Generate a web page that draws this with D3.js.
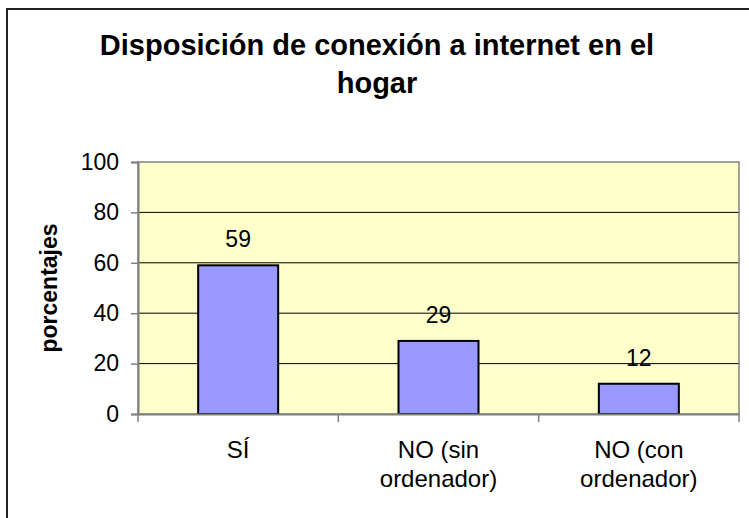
<!DOCTYPE html>
<html>
<head>
<meta charset="utf-8">
<script src="https://cdn.jsdelivr.net/npm/d3@7"></script>
<style>
  html, body { margin: 0; padding: 0; background: #fff; }
  svg { display: block; font-family: "Liberation Sans", Arial, sans-serif; }
</style>
</head>
<body>
<svg id="chart" width="749" height="518"></svg>
<script>
const titleLines = ["Disposición de conexión a internet en el", "hogar"];
const categories = [["SÍ"], ["NO (sin", "ordenador)"], ["NO (con", "ordenador)"]];
const categoryKeys = ["SÍ", "NO (sin ordenador)", "NO (con ordenador)"];
const values = [59, 29, 12];
const yTicks = [0, 20, 40, 60, 80, 100];
const yLabel = "porcentajes";

const svg = d3.select("#chart");
const plot = { left: 138, right: 739, top: 162, bottom: 414 };

// outer frame
svg.append("rect")
  .attr("x", 7).attr("y", 9).attr("width", 800).attr("height", 600)
  .attr("fill", "#fff").attr("stroke", "#222").attr("stroke-width", 2);

// title
svg.append("text")
  .attr("text-anchor", "middle")
  .attr("font-weight", "bold").attr("font-size", 29)
  .selectAll("tspan").data(titleLines).join("tspan")
  .attr("x", 377).attr("y", (d, i) => 55 + i * 38)
  .text(d => d);

const x = d3.scaleBand().domain(categoryKeys).range([plot.left, plot.right]).paddingInner(0).paddingOuter(0);
const y = d3.scaleLinear().domain([0, 100]).range([plot.bottom, plot.top]);

// plot background
svg.append("rect")
  .attr("x", plot.left).attr("y", plot.top)
  .attr("width", plot.right - plot.left).attr("height", plot.bottom - plot.top)
  .attr("fill", "#FFFFCC");

// gridlines
svg.append("g").selectAll("line").data(yTicks.filter(t => t > 0 && t < 100)).join("line")
  .attr("x1", plot.left).attr("x2", plot.right)
  .attr("y1", d => y(d)).attr("y2", d => y(d))
  .attr("stroke", "#000").attr("stroke-width", 1);

// plot border (top/right gray)
svg.append("rect")
  .attr("x", plot.left).attr("y", plot.top)
  .attr("width", plot.right - plot.left).attr("height", plot.bottom - plot.top)
  .attr("fill", "none").attr("stroke", "#808080").attr("stroke-width", 1.5);

// bars
const barW = 80;
svg.append("g").selectAll("rect").data(values).join("rect")
  .attr("x", (d, i) => x(categoryKeys[i]) + x.bandwidth() / 2 - barW / 2)
  .attr("y", d => y(d))
  .attr("width", barW)
  .attr("height", d => y(0) - y(d))
  .attr("fill", "#9999FF").attr("stroke", "#000").attr("stroke-width", 2);

// value labels
svg.append("g").selectAll("text").data(values).join("text")
  .attr("x", (d, i) => x(categoryKeys[i]) + x.bandwidth() / 2)
  .attr("y", d => y(d) - 18)
  .attr("text-anchor", "middle").attr("font-size", 23)
  .text(d => d);

// y axis
const yAxis = d3.axisLeft(y).tickValues(yTicks).tickSize(7).tickPadding(12);
const gy = svg.append("g").attr("transform", `translate(${plot.left},0)`).call(yAxis);
gy.select(".domain").attr("stroke", "#808080").attr("stroke-width", 2);
gy.selectAll(".tick line").attr("stroke", "#808080").attr("stroke-width", 1.5);
gy.selectAll(".tick text").attr("font-size", 23).attr("fill", "#000")
  .attr("font-family", "'Liberation Sans', Arial, sans-serif");

// x axis
const xAxis = d3.axisBottom(x).tickSize(0).tickFormat(() => "");
const gx = svg.append("g").attr("transform", `translate(0,${plot.bottom})`).call(xAxis);
gx.select(".domain").attr("stroke", "#808080").attr("stroke-width", 2);
const bounds = categoryKeys.map(k => x(k)).concat([plot.right]);
gx.selectAll("line.bt").data(bounds).join("line").attr("class", "bt")
  .attr("x1", d => d).attr("x2", d => d).attr("y1", 0).attr("y2", 8)
  .attr("stroke", "#808080").attr("stroke-width", 1.5);

// category labels
const cat = svg.append("g").selectAll("text").data(categories).join("text")
  .attr("text-anchor", "middle").attr("font-size", 24);
cat.selectAll("tspan").data((d, i) => d.map(t => ({ t, i }))).join("tspan")
  .attr("x", d => x(categoryKeys[d.i]) + x.bandwidth() / 2)
  .attr("y", (d, j) => 458 + j * 29)
  .text(d => d.t);

// y label
svg.append("text")
  .attr("transform", `translate(57,288) rotate(-90)`)
  .attr("text-anchor", "middle").attr("font-weight", "bold").attr("font-size", 23)
  .text(yLabel);
</script>
</body>
</html>
